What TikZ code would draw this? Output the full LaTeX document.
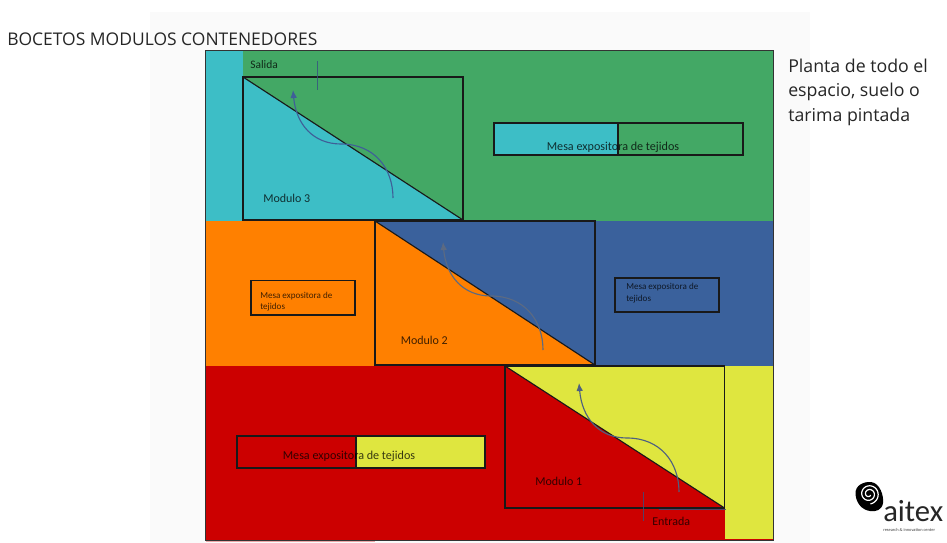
\documentclass[tikz,border=0pt]{standalone}
\usepackage{fontspec}
\setmainfont{Carlito}
\newfontfamily\headfont{Open Sans}
\usetikzlibrary{arrows.meta}
\definecolor{cgreen}{HTML}{43A865}
\definecolor{cteal}{HTML}{3DBEC6}
\definecolor{corange}{HTML}{FF8000}
\definecolor{cblue}{HTML}{3A619C}
\definecolor{cred}{HTML}{CC0000}
\definecolor{cyel}{HTML}{DFE63F}
\definecolor{cpath}{HTML}{3F5F98}
\definecolor{cpathb}{HTML}{5C6A82}
\definecolor{cpathc}{HTML}{4E6080}
\tikzset{
  x=0.75pt,y=-0.75pt,
  outline/.style={draw=black!90,line width=0.85pt},
  fineline/.style={draw=cpath!85!black,line width=0.5pt,opacity=.8},
  lab/.style={inner sep=0pt,anchor=west,text opacity=.75,font=\fontsize{9}{10}\selectfont},
  smalllab/.style={inner sep=0pt,anchor=north west,align=left,text opacity=.75,font=\fontsize{6.8}{8.6}\selectfont},
  midlab/.style={inner sep=0pt,text opacity=.75,font=\fontsize{9.1}{10}\selectfont},
  head/.style={inner sep=0pt,anchor=west,text=black!85,font=\headfont},
  route/.style={line width=0.85pt,-{Latex[length=6pt,width=5pt]}}
}
\begin{document}
\begin{tikzpicture}
\useasboundingbox (0,0) rectangle (947,543);
\fill[white] (0,0) rectangle (947,543);
\fill[black!2] (150,12) rectangle (810,543);
% zone fills
\fill[cgreen] (206,51) rectangle (773,220.5);
\fill[cteal] (206,51) rectangle (243,220.5);
\fill[cteal] (243,77) -- (463,220) -- (243,220) -- cycle;
\fill[corange] (206,220.5) rectangle (375,365.5);
\fill[cblue] (375,220.5) rectangle (773,365.5);
\fill[corange] (375,221) -- (595,365.5) -- (375,365.5) -- cycle;
\fill[cred] (206,365.5) rectangle (773,540);
\fill[cyel] (505,366) rectangle (724.5,508);
\fill[cyel] (724.5,366) rectangle (772.5,539);
\fill[cred] (505,366) -- (724.5,508) -- (505,508) -- cycle;
\fill[cred!35] (206,540) rectangle (375,541.5);
% module outlines
\draw[outline] (243,77) rectangle (463,220);
\draw[outline] (243,77) -- (463,220);
\draw[outline] (375,221) rectangle (595,365);
\draw[outline] (375,221) -- (595,365);
\draw[outline] (505,366) rectangle (724.5,508);
\draw[outline] (505,366) -- (724.5,508);
% frame
\draw[draw=black!80,line width=0.7pt] (205.5,50.5) rectangle (773,540);
% tables
\fill[cteal] (494,123) rectangle (618,155);
\draw[outline] (494,123) rectangle (743,155);
\draw[outline] (618,123) -- (618,155);
\draw[outline] (251,280.5) rectangle (355,315);
\draw[outline] (615,278) rectangle (719,312);
\fill[cyel] (356,436) rectangle (485,468);
\draw[outline] (237,436) rectangle (485,468);
\draw[outline] (356,436) -- (356,468);
% door marks
\coordinate (s1) at (317.7,61); \coordinate (s2) at (317.7,90);
\draw[fineline] (s1) -- (s2);
\coordinate (e1) at (643.7,492); \coordinate (e2) at (643.7,521);
\coordinate (e3) at (659,509.7); \coordinate (e4) at (726,509.7);
\draw[fineline] (e1) -- (e2);
\draw[fineline] (e3) -- (e4);
% routes
\coordinate (a3) at (393,198); \coordinate (m3) at (341,144); \coordinate (b3) at (293,90);
\draw[route,draw=cpath] (a3) .. controls (393,168) and (374,144) .. (m3) .. controls (313,144) and (296,124) .. (b3);
\coordinate (a2) at (543,350); \coordinate (m2) at (491,296); \coordinate (b2) at (443,242);
\draw[route,draw=cpathb] (a2) .. controls (543,320) and (524,296) .. (m2) .. controls (463,296) and (446,276) .. (b2);
\coordinate (a1) at (679,492); \coordinate (m1) at (627,438); \coordinate (b1) at (579,383);
\draw[route,draw=cpathc] (a1) .. controls (679,462) and (660,438) .. (m1) .. controls (599,438) and (582,418) .. (b1);
% labels
\node[head,font=\headfont\fontsize{13.1}{15}\selectfont] (title) at (7,39) {BOCETOS MODULOS CONTENEDORES};
\node[head,anchor=north west,align=left,font=\headfont\fontsize{13.3}{18.4}\selectfont] (plant) at (788,58.5) {Planta de todo el\\espacio, suelo o\\tarima pintada};
\node[lab,font=\fontsize{8.6}{10}\selectfont] (sal) at (250,65) {Salida};
\node[lab] (mod3) at (263,198) {Modulo 3};
\node[lab] (mod2) at (400.5,340) {Modulo 2};
\node[lab] (mod1) at (535,481) {Modulo 1};
\node[lab] (ent) at (652,521) {Entrada};
\node[midlab] (t3) at (613,147) {Mesa expositora de tejidos};
\node[midlab] (t1) at (349,456.5) {Mesa expositora de tejidos};
\node[smalllab] (t2) at (260,291.5) {Mesa expositora de\\tejidos};
\node[smalllab] (t4) at (626,283) {Mesa expositora de\\tejidos};
% logo
\fill[black] (855.5,494) .. controls (855,485) and (864,481.5) .. (871,482) .. controls (880,483) and (884,496) .. (883,503) .. controls (882,510) and (876,512) .. (870,511) .. controls (862,510) and (856,503) .. (855.5,494) -- cycle;
\draw[white,line width=0.9pt,line cap=round] plot[smooth,domain=0:760,samples=60] ({869+(2+\x/95)*cos(\x+40)},{494+(2+\x/95)*sin(\x+40)});
\node[inner sep=0pt,anchor=base west,text=black!85,font=\fontsize{23}{23}\selectfont] (aitex) at (883,521.5) {aitex};
\node[inner sep=0pt,anchor=base west,font=\fontsize{3}{3}\selectfont] (reg) at (941,509) {®};
\node[inner sep=0pt,anchor=base west,text=black!75,font=\fontsize{3.3}{4}\selectfont] (tag) at (883,531) {research \& innovation center};
\end{tikzpicture}
\end{document}
